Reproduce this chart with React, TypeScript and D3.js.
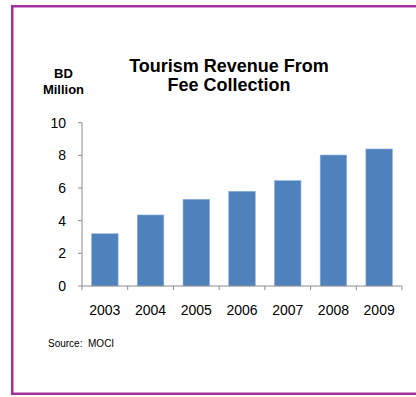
import React from "react";
import * as d3 from "d3";

const years = ["2003", "2004", "2005", "2006", "2007", "2008", "2009"];
const revenue = [3.2, 4.35, 5.31, 5.8, 6.45, 8.02, 8.39];
const yTicks = [0, 2, 4, 6, 8, 10];

export default function App() {
  const W = 416, H = 397;
  const x0 = 82, x1 = 402, yTop = 122.7, yBot = 286;
  const x = d3.scaleBand().domain(years).range([x0, x1]).paddingInner(0.42).paddingOuter(0.21);
  const xb = d3.scaleBand().domain(years).range([x0, x1]);
  const y = d3.scaleLinear().domain([0, 10]).range([yBot, yTop]);
  const font = "Arial, 'Liberation Sans', Helvetica, sans-serif";
  const axisColor = "#8c8c8c";
  return (
    <svg width={W} height={H} style={{ position: "absolute", left: 0, top: 0, background: "#fff" }} fontFamily={font}>
      <rect x={12.25} y={6.25} width={500} height={387.5} fill="none" stroke="#A2309F" strokeWidth={2.5} />
      <text x={229} textAnchor="middle" fontWeight="bold" fontSize={18} fill="#000">
        <tspan x={229} y={72}>Tourism Revenue From</tspan>
        <tspan x={229} y={91}>Fee Collection</tspan>
      </text>
      <text textAnchor="middle" fontWeight="bold" fontSize={13} fill="#000">
        <tspan x={63.5} y={77.5}>BD</tspan>
        <tspan x={63.5} y={93.5}>Million</tspan>
      </text>
      {years.map((yr, i) => (
        <rect key={yr} x={x(yr)} y={y(revenue[i])} width={x.bandwidth()} height={yBot - y(revenue[i])}
          fill="#4F81BD" stroke="#8fb0dc" strokeWidth={0.6} />
      ))}
      <line x1={x0} x2={x0} y1={yTop} y2={yBot} stroke={axisColor} strokeWidth={1} />
      <line x1={x0} x2={x1} y1={yBot} y2={yBot} stroke={axisColor} strokeWidth={1} />
      {yTicks.map((t) => (
        <g key={t}>
          <line x1={x0 - 4} x2={x0} y1={y(t)} y2={y(t)} stroke={axisColor} strokeWidth={1} />
          <text x={66} y={y(t)} dy="0.35em" textAnchor="end" fontSize={14} fill="#000">{t}</text>
        </g>
      ))}
      {[...years.map((yr) => xb(yr) as number), x1].map((p, i) => (
        <line key={i} x1={p} x2={p} y1={yBot} y2={yBot + 4} stroke={axisColor} strokeWidth={1} />
      ))}
      {years.map((yr) => (
        <text key={yr} x={(xb(yr) as number) + xb.bandwidth() / 2} y={315} textAnchor="middle" fontSize={14} fill="#000">{yr}</text>
      ))}
      <text x={48} y={347} fontSize={10} fill="#000">{"Source:\u00a0 MOCI"}</text>
    </svg>
  );
}
